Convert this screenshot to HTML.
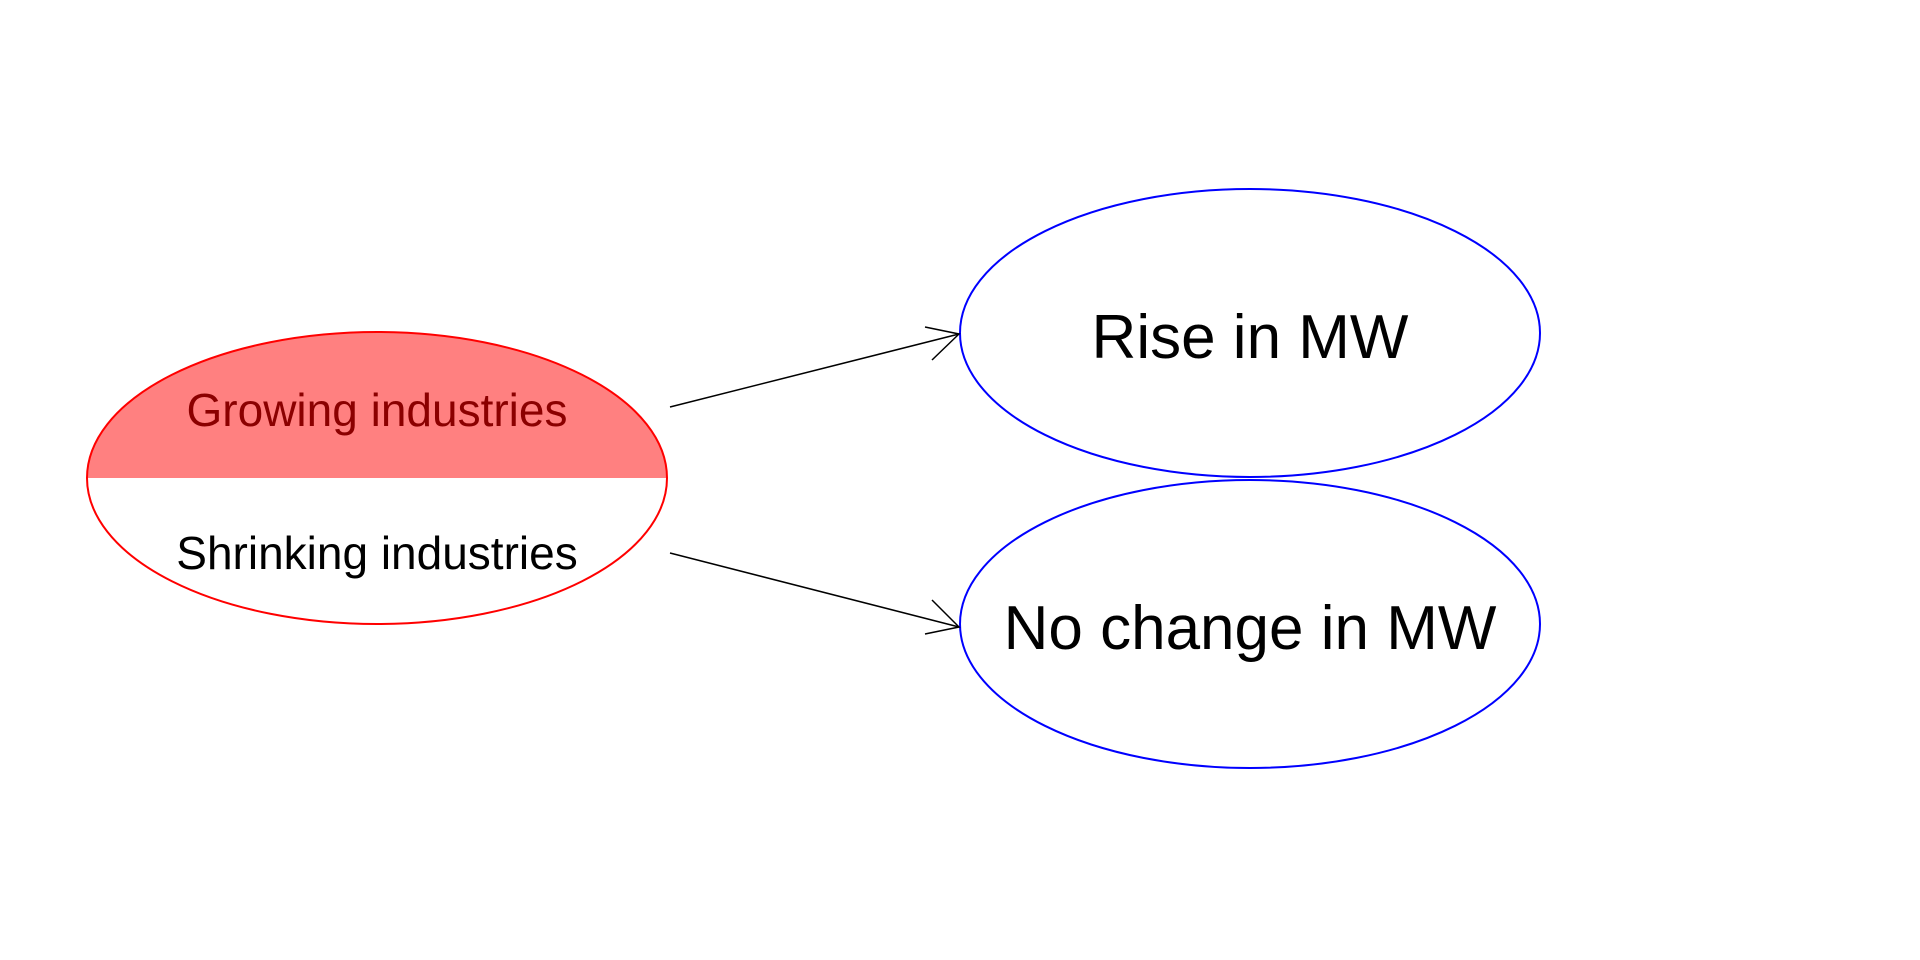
<!DOCTYPE html>
<html><head><meta charset="utf-8"><style>html,body{margin:0;padding:0;background:#fff;}svg{display:block}</style></head>
<body>
<svg width="1920" height="960" viewBox="0 0 1920 960" xmlns="http://www.w3.org/2000/svg" font-family="Liberation Sans, Arial, sans-serif">
<defs><clipPath id="top"><rect x="0" y="0" width="1920" height="478"/></clipPath></defs>
<ellipse cx="377" cy="478" rx="290" ry="146" fill="#FF8080" clip-path="url(#top)"/>
<ellipse cx="377" cy="478" rx="290" ry="146" fill="none" stroke="#FF0000" stroke-width="2"/>
<text x="377" y="426" font-size="46" fill="#8B0000" text-anchor="middle">Growing industries</text>
<text x="377" y="569" font-size="46" fill="#000" text-anchor="middle">Shrinking industries</text>
<ellipse cx="1250" cy="333" rx="290" ry="144" fill="none" stroke="#0000FF" stroke-width="2"/>
<ellipse cx="1250" cy="624" rx="290" ry="144" fill="none" stroke="#0000FF" stroke-width="2"/>
<text x="1250" y="358" font-size="62" fill="#000" text-anchor="middle">Rise in MW</text>
<text x="1250" y="649" font-size="62" fill="#000" text-anchor="middle">No change in MW</text>
<g stroke="#000" stroke-width="1.5" fill="none">
<line x1="670" y1="407" x2="959" y2="334"/>
<polyline points="925,327 959,334 932,360"/>
<line x1="670" y1="553" x2="959" y2="627"/>
<polyline points="932,600 959,627 925,634"/>
</g>
</svg>
</body></html>
